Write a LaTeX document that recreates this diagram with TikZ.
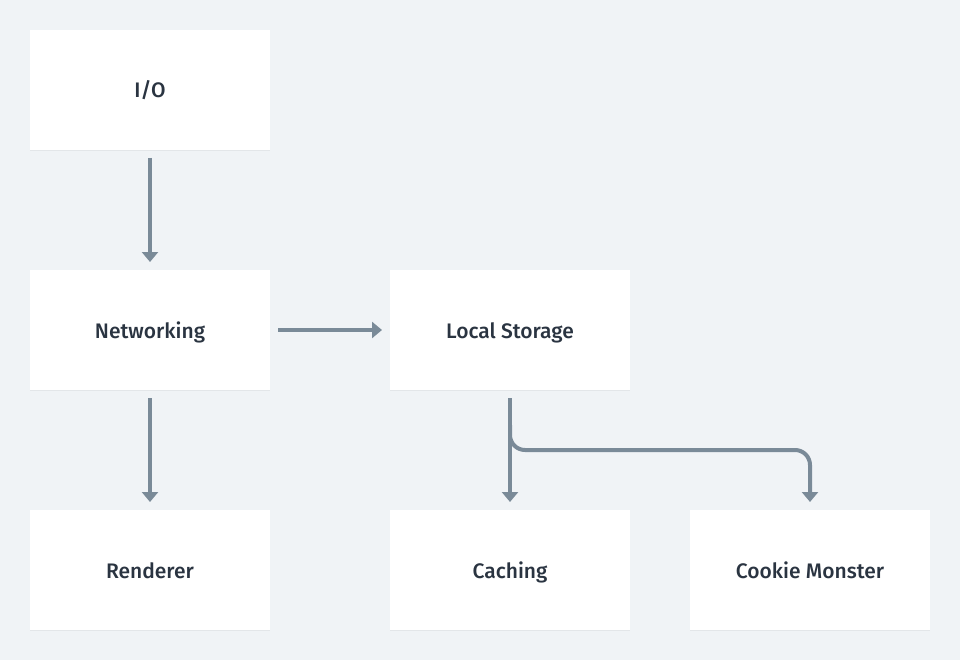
\documentclass[tikz,border=0pt]{standalone}
\usepackage{fontspec}
\setmainfont{Fira Sans}[UprightFont={* Medium}]
\usetikzlibrary{arrows.meta,shadows}

\definecolor{bgcol}{HTML}{F0F3F6}
\definecolor{linecol}{HTML}{7A8A98}
\definecolor{textcol}{HTML}{2A3441}

\tikzset{
  box/.style={fill=white, minimum width=240pt, minimum height=120pt, outer sep=8pt,
    text height=16pt, text depth=0pt,
    font=\fontsize{21pt}{25pt}\selectfont, text=textcol,
    drop shadow={shadow xshift=0pt, shadow yshift=-1pt, fill=black, opacity=0.05}},
  flow/.style={draw=linecol, line width=4pt, -{Triangle[width=16pt,length=10pt]}}
}

\begin{document}
\begin{tikzpicture}[x=1pt,y=-1pt]

\fill [bgcol] (0,0) rectangle (960,660);
\useasboundingbox (0,0) rectangle (960,660);

\node [box] (io) at (150,90) {I/O};
\node [box] (net) at (150,330) {Networking};
\node [box] (store) at (510,330) {Local Storage};
\node [box] (render) at (150,570) {Renderer};
\node [box] (cache) at (510,570) {Caching};
\node [box] (cookie) at (810,570) {Cookie Monster};

\coordinate (split) at (510,425);

\draw [flow] (io) -- (net);
\draw [flow] (net) -- (store);
\draw [flow] (net) -- (render);
\draw [flow] (store) -- (cache);
\draw [flow, rounded corners=15pt] (split) -- (510,450) -| (cookie.north);

\end{tikzpicture}
\end{document}
